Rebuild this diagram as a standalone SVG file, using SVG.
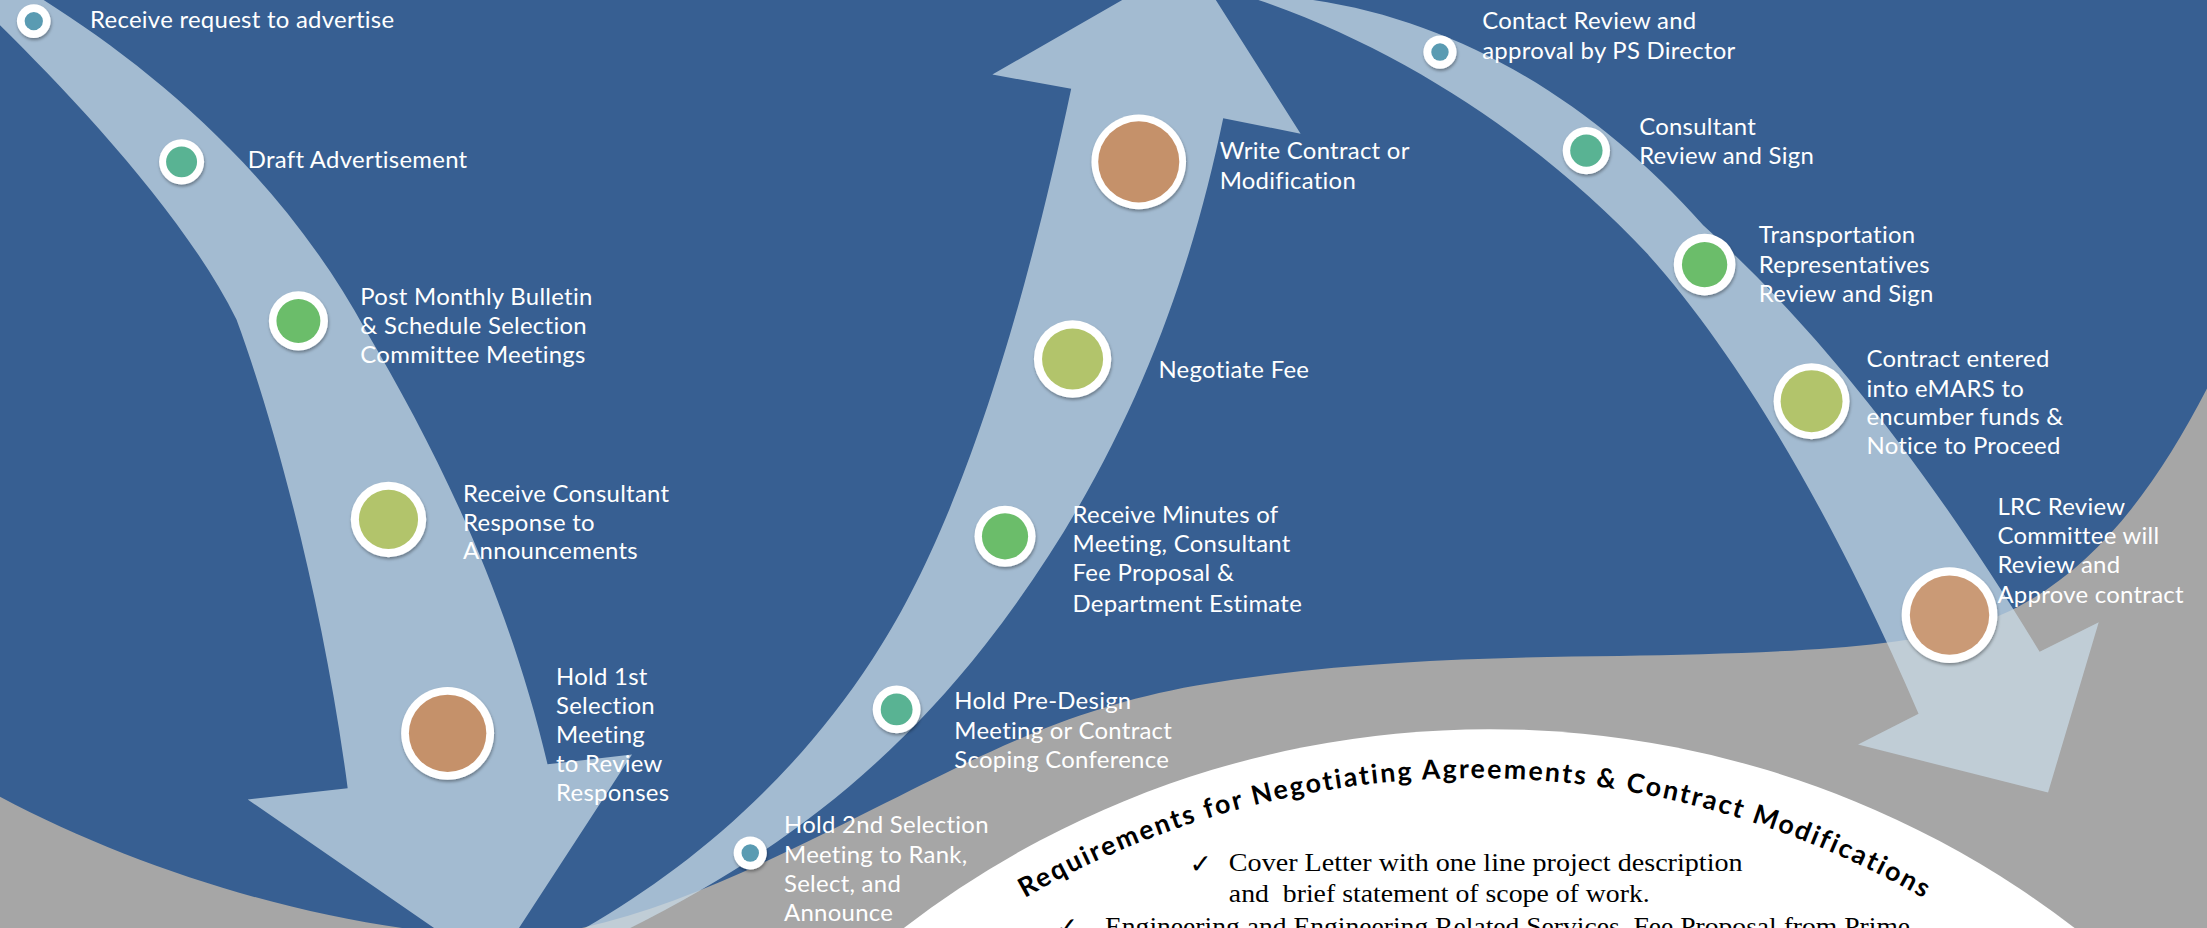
<svg xmlns="http://www.w3.org/2000/svg" width="2207" height="928" viewBox="0 0 2207 928">
<defs>
<style>
.lbl{font-family:Lato,"Open Sans",sans-serif;font-size:17px;letter-spacing:0.2px;fill:#fff}
.arrow{fill:#C8DAE6;fill-opacity:0.75}
.ring{fill:#fff;filter:url(#sh)}
.title{font-family:Lato,"Open Sans",sans-serif;font-weight:700;font-size:19px;fill:#000;letter-spacing:1.5px}
.body{font-family:"Liberation Serif",serif;font-size:18px;fill:#000}
.chk{font-family:"DejaVu Sans",sans-serif;font-size:19px;font-weight:700;fill:#000}
</style>
<filter id="sh" x="-30%" y="-30%" width="160%" height="170%">
<feDropShadow dx="0.5" dy="1.5" stdDeviation="1.2" flood-color="#000" flood-opacity="0.35"/>
</filter>
<path id="tp" d="M728,638 A640,640 0 0 1 1430,680"/>
</defs>
<g transform="scale(1.4076)">
<g id="background">
<rect x="0" y="0" width="1570" height="662" fill="#A6A6A6"/>
<path d="M0,0 H1570 V272 C1530,350 1480,420 1400,445 C1340,462 1250,464 1150,466 C1050,467 950,470 850,487 C760,503 700,535 620,575 C540,615 470,650 390,664 C280,672 120,630 0,566 Z" fill="#375F92"/>
<ellipse cx="1058" cy="1190" rx="678" ry="672" fill="#FFFFFF"/>
</g>
<g id="connectors">
<path class="arrow" d="M-6,12 C45,62 130,150 168,227 C195,300 230,430 247,560 L176,568 L350,688 L449,536 L389,543 C360,420 310,320 260,235 C200,125 110,50 31,0 L28,-6 L-6,-6 Z"/>
<path class="arrow" d="M400,668 C480,625 560,560 620,468 C665,400 715,280 761,63 L705,53 L846,-28 L924,95 L869,84 C845,200 800,330 700,458 C620,560 530,620 430,668 Z"/>
<path class="arrow" d="M917,-2 C1030,10 1130,70 1210,160 C1270,215 1350,300 1449,463 L1491,442 L1455,563 L1320,529 L1363,507 C1330,430 1260,280 1170,180 C1100,105 1000,35 888,-2 Z"/>
</g>
<g id="n1"><circle class="ring" cx="24" cy="15" r="12"/><circle cx="24" cy="15" r="6.5" fill="#5A9BB2"/>
<text class="lbl" x="64" y="20">Receive request to advertise</text></g>
<g id="n2"><circle class="ring" cx="129" cy="115" r="16"/><circle cx="129" cy="115" r="11" fill="#59B393"/>
<text class="lbl" x="176" y="119.6">Draft Advertisement</text></g>
<g id="n3"><circle class="ring" cx="212" cy="228" r="21"/><circle cx="212" cy="228" r="15.6" fill="#6BBD6A"/>
<text class="lbl"><tspan x="256" y="216.7">Post Monthly Bulletin</tspan><tspan x="256" y="237.3">&amp; Schedule Selection</tspan><tspan x="256" y="257.8">Committee Meetings</tspan></text></g>
<g id="n4"><circle class="ring" cx="276" cy="369" r="26.8"/><circle cx="276" cy="369" r="21" fill="#B2C46B"/>
<text class="lbl"><tspan x="329" y="356.4">Receive Consultant</tspan><tspan x="329" y="377">Response to</tspan><tspan x="329" y="397.4">Announcements</tspan></text></g>
<g id="n5"><circle class="ring" cx="318" cy="521" r="33"/><circle cx="318" cy="521" r="27.5" fill="#C5916A"/>
<text class="lbl"><tspan x="395" y="486.6">Hold 1st</tspan><tspan x="395" y="507.3">Selection</tspan><tspan x="395" y="528">Meeting</tspan><tspan x="395" y="548.7">to Review</tspan><tspan x="395" y="569.4">Responses</tspan></text></g>
<g id="n6"><circle class="ring" cx="533" cy="606" r="11.8"/><circle cx="533" cy="606" r="6.2" fill="#5A9BB2"/>
<text class="lbl"><tspan x="557" y="592">Hold 2nd Selection</tspan><tspan x="557" y="613">Meeting to Rank,</tspan><tspan x="557" y="633.5">Select, and</tspan><tspan x="557" y="654.5">Announce</tspan></text></g>
<g id="n7"><circle class="ring" cx="637" cy="504" r="17"/><circle cx="637" cy="504" r="11.3" fill="#59B393"/>
<text class="lbl"><tspan x="678" y="504">Hold Pre-Design</tspan><tspan x="678" y="524.8">Meeting or Contract</tspan><tspan x="678" y="545.6">Scoping Conference</tspan></text></g>
<g id="n8"><circle class="ring" cx="714" cy="381" r="21.7"/><circle cx="714" cy="381" r="16.4" fill="#6BBD6A"/>
<text class="lbl"><tspan x="762" y="371.8">Receive Minutes of</tspan><tspan x="762" y="392.4">Meeting, Consultant</tspan><tspan x="762" y="413">Fee Proposal &amp;</tspan><tspan x="762" y="434.6">Department Estimate</tspan></text></g>
<g id="n9"><circle class="ring" cx="762" cy="255" r="27.5"/><circle cx="762" cy="255" r="21.7" fill="#B2C46B"/>
<text class="lbl" x="823" y="268.7">Negotiate Fee</text></g>
<g id="n10"><circle class="ring" cx="809" cy="115" r="33.6"/><circle cx="809" cy="115" r="28.8" fill="#C5916A"/>
<text class="lbl"><tspan x="866.5" y="113.2">Write Contract or</tspan><tspan x="866.5" y="134.5">Modification</tspan></text></g>
<g id="n11"><circle class="ring" cx="1023" cy="37" r="11.8"/><circle cx="1023" cy="37" r="6.2" fill="#5A9BB2"/>
<text class="lbl"><tspan x="1053" y="20.8">Contact Review and</tspan><tspan x="1053" y="42.1">approval by PS Director</tspan></text></g>
<g id="n12"><circle class="ring" cx="1127" cy="107" r="16.8"/><circle cx="1127" cy="107" r="11.5" fill="#59B393"/>
<text class="lbl"><tspan x="1164.5" y="95.9">Consultant</tspan><tspan x="1164.5" y="116.5">Review and Sign</tspan></text></g>
<g id="n13"><circle class="ring" cx="1211" cy="188" r="21.9"/><circle cx="1211" cy="188" r="16.1" fill="#6BBD6A"/>
<text class="lbl"><tspan x="1249.5" y="172.9">Transportation</tspan><tspan x="1249.5" y="194.2">Representatives</tspan><tspan x="1249.5" y="214.3">Review and Sign</tspan></text></g>
<g id="n14"><circle class="ring" cx="1287" cy="285" r="27"/><circle cx="1287" cy="285" r="22" fill="#B2C46B"/>
<text class="lbl"><tspan x="1326" y="260.5">Contract entered</tspan><tspan x="1326" y="281.8">into eMARS to</tspan><tspan x="1326" y="302">encumber funds &amp;</tspan><tspan x="1326" y="322.6">Notice to Proceed</tspan></text></g>
<g id="n15"><circle class="ring" cx="1385" cy="437" r="34"/><circle cx="1385" cy="437" r="28.2" fill="#C5916A" fill-opacity="0.92"/>
<text class="lbl"><tspan x="1419" y="365.9">LRC Review</tspan><tspan x="1419" y="386.5">Committee will</tspan><tspan x="1419" y="407.3">Review and</tspan><tspan x="1419" y="428.6">Approve contract</tspan></text></g>
<g id="requirements">
<text class="title"><textPath href="#tp">Requirements for Negotiating Agreements &amp; Contract Modifications</textPath></text>
<text class="chk" x="845" y="620">✓</text>
<text class="body" x="873" y="619" textLength="365" lengthAdjust="spacingAndGlyphs">Cover Letter with one line project description</text>
<text class="body" x="873" y="641" textLength="299" lengthAdjust="spacingAndGlyphs" xml:space="preserve">and  brief statement of scope of work.</text>
<text class="chk" x="750" y="665">✓</text>
<text class="body" x="785" y="664" textLength="572" lengthAdjust="spacingAndGlyphs">Engineering and Engineering Related Services, Fee Proposal from Prime</text>
</g>
</g>
</svg>
